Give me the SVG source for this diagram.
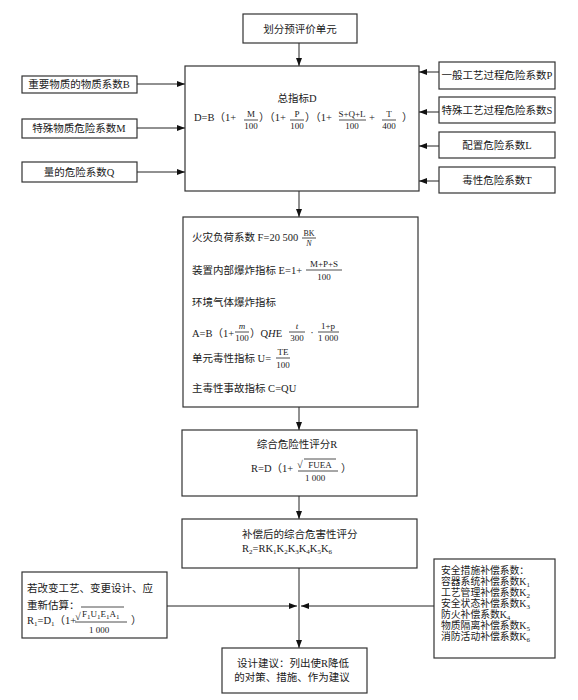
<svg xmlns="http://www.w3.org/2000/svg" width="578" height="700" viewBox="0 0 578 700">
<defs>
<style>
text{font-family:"Liberation Serif","Noto Sans CJK SC",serif;font-size:10.5px;fill:#1a1a1a}
.c{text-anchor:middle}
.f{font-size:9px}
.sm{font-size:8px}
.sub{font-size:7px}
.k{font-size:9.8px}
.box{fill:#fff;stroke:#333;stroke-width:1.2}
.ln{stroke:#222;stroke-width:1;fill:none}
.fl{stroke:#222;stroke-width:0.8}
</style>
<marker id="ah" markerWidth="8" markerHeight="6" refX="8" refY="3" orient="auto" markerUnits="userSpaceOnUse">
<path d="M0,0 L8,3 L0,6 z" fill="#111"/>
</marker>
</defs>
<rect width="578" height="700" fill="#fff"/>

<g id="connectors">
<line class="ln" x1="299" y1="43" x2="299" y2="66" marker-end="url(#ah)"/>
<line class="ln" x1="137" y1="84" x2="185" y2="84" marker-end="url(#ah)"/>
<line class="ln" x1="137" y1="128" x2="185" y2="128" marker-end="url(#ah)"/>
<line class="ln" x1="137" y1="172" x2="185" y2="172" marker-end="url(#ah)"/>
<line class="ln" x1="439" y1="72" x2="419" y2="72" marker-end="url(#ah)"/>
<line class="ln" x1="439" y1="112" x2="419" y2="112" marker-end="url(#ah)"/>
<line class="ln" x1="439" y1="146" x2="419" y2="146" marker-end="url(#ah)"/>
<line class="ln" x1="439" y1="181" x2="419" y2="181" marker-end="url(#ah)"/>
<line class="ln" x1="299" y1="191" x2="299" y2="217" marker-end="url(#ah)"/>
<line class="ln" x1="299" y1="407" x2="299" y2="430" marker-end="url(#ah)"/>
<line class="ln" x1="299" y1="496" x2="299" y2="519" marker-end="url(#ah)"/>
<line class="ln" x1="299" y1="568" x2="299" y2="648" marker-end="url(#ah)"/>
<line class="ln" x1="167" y1="606" x2="297" y2="606" marker-end="url(#ah)"/>
<line class="ln" x1="434" y1="606" x2="301" y2="606" marker-end="url(#ah)"/>
</g>

<g id="n-top">
<rect class="box" x="243" y="14" width="114" height="29"/>
<text class="c" x="300" y="33">划分预评价单元</text>
</g>

<g id="n-B">
<rect class="box" x="22" y="76" width="115" height="17"/>
<text class="c" x="79" y="88">重要物质的物质系数B</text>
</g>
<g id="n-M">
<rect class="box" x="22" y="119" width="115" height="19"/>
<text class="c" x="79" y="132">特殊物质危险系数M</text>
</g>
<g id="n-Q">
<rect class="box" x="22" y="162" width="115" height="20"/>
<text class="c" x="79" y="176">量的危险系数Q</text>
</g>

<g id="n-P">
<rect class="box" x="439" y="62" width="116" height="27"/>
<text class="c" x="497" y="79">一般工艺过程危险系数P</text>
</g>
<g id="n-S">
<rect class="box" x="439" y="97" width="116" height="26"/>
<text class="c" x="497" y="114">特殊工艺过程危险系数S</text>
</g>
<g id="n-L">
<rect class="box" x="439" y="132" width="116" height="26"/>
<text class="c" x="497" y="149">配置危险系数L</text>
</g>
<g id="n-T">
<rect class="box" x="439" y="167" width="116" height="26"/>
<text class="c" x="497" y="184">毒性危险系数T</text>
</g>

<g id="n-D">
<rect class="box" x="185" y="66" width="234" height="125"/>
<text class="c" x="297" y="102">总指标D</text>
<text x="194" y="121">D=B（1+</text>
<text class="c f" x="251" y="117">M</text>
<line class="fl" x1="244" y1="120" x2="258" y2="120"/>
<text class="c f" x="251" y="129">100</text>
<text x="259" y="121">）（1+</text>
<text class="c f" x="297" y="117">P</text>
<line class="fl" x1="290" y1="120" x2="304" y2="120"/>
<text class="c f" x="297" y="129">100</text>
<text x="305" y="121">）（1+</text>
<text class="c f" x="352" y="117">S+Q+L</text>
<line class="fl" x1="339" y1="120" x2="366" y2="120"/>
<text class="c f" x="352" y="129">100</text>
<text x="369" y="121">+</text>
<text class="c f" x="389" y="117">T</text>
<line class="fl" x1="382" y1="120" x2="396" y2="120"/>
<text class="c f" x="389" y="129">400</text>
<text x="402" y="121">）</text>
</g>

<g id="n-index">
<rect class="box" x="183" y="217" width="235" height="190"/>
<text x="192" y="241">火灾负荷系数 F=20 500</text>
<text class="c sm" x="309" y="236">BK</text>
<line class="fl" x1="302" y1="238" x2="316" y2="238"/>
<text class="c sm" x="309" y="246" font-style="italic">N</text>

<text x="192" y="274">装置内部爆炸指标 E=1+</text>
<text class="c f" x="324" y="267">M+P+S</text>
<line class="fl" x1="306" y1="270" x2="342" y2="270"/>
<text class="c f" x="324" y="280">100</text>

<text x="192" y="306">环境气体爆炸指标</text>

<text x="192" y="337">A=B（1+</text>
<text class="c f" x="242" y="329" font-style="italic">m</text>
<line class="fl" x1="235" y1="332" x2="249" y2="332"/>
<text class="c f" x="242" y="341">100</text>
<text x="250" y="337">）Q<tspan font-style="italic">H</tspan>E</text>
<text class="c f" x="297" y="329" font-style="italic">t</text>
<line class="fl" x1="289" y1="332" x2="305" y2="332"/>
<text class="c f" x="297" y="341">300</text>
<text class="c" x="312" y="336">·</text>
<text class="c f" x="328" y="329">1+p</text>
<line class="fl" x1="318" y1="332" x2="339" y2="332"/>
<text class="c f" x="328" y="341">1 000</text>

<text x="192" y="362">单元毒性指标 U=</text>
<text class="c f" x="283" y="355">TE</text>
<line class="fl" x1="276" y1="358" x2="290" y2="358"/>
<text class="c f" x="283" y="368">100</text>

<text x="192" y="392">主毒性事故指标 C=QU</text>
</g>

<g id="n-R">
<rect class="box" x="182" y="430" width="235" height="66"/>
<text class="c" x="297" y="448">综合危险性评分R</text>
<text x="251" y="472">R=D（1+</text>
<text x="297" y="468" font-size="11">√</text>
<line class="fl" x1="304" y1="459" x2="336" y2="459"/>
<text class="c f" x="320" y="468">FUEA</text>
<line class="fl" x1="298" y1="471" x2="338" y2="471"/>
<text class="c f" x="315" y="481">1 000</text>
<text x="341" y="472">）</text>
</g>

<g id="n-R2">
<rect class="box" x="182" y="519" width="235" height="49"/>
<text x="242" y="538">补偿后的综合危害性评分</text>
<text x="242" y="552">R<tspan class="sub" dy="2">2</tspan><tspan dy="-2">=RK</tspan><tspan class="sub" dy="2">1</tspan><tspan dy="-2">K</tspan><tspan class="sub" dy="2">2</tspan><tspan dy="-2">K</tspan><tspan class="sub" dy="2">3</tspan><tspan dy="-2">K</tspan><tspan class="sub" dy="2">4</tspan><tspan dy="-2">K</tspan><tspan class="sub" dy="2">5</tspan><tspan dy="-2">K</tspan><tspan class="sub" dy="2">6</tspan></text>
</g>

<g id="n-R1">
<rect class="box" x="22" y="572" width="145" height="66"/>
<text x="27" y="592">若改变工艺、变更设计、应</text>
<text x="27" y="609">重新估算：</text>
<text x="27" y="624">R<tspan class="sub" dy="2">1</tspan><tspan dy="-2">=D</tspan><tspan class="sub" dy="2">1</tspan><tspan dy="-2">（1+</tspan></text>
<text x="75" y="620" font-size="11">√</text>
<line class="fl" x1="81" y1="607" x2="124" y2="607"/>
<text x="82" y="617" class="f">F<tspan class="sub" dy="2">1</tspan><tspan dy="-2">U</tspan><tspan class="sub" dy="2">1</tspan><tspan dy="-2">E</tspan><tspan class="sub" dy="2">1</tspan><tspan dy="-2">A</tspan><tspan class="sub" dy="2">1</tspan></text>
<line class="fl" x1="75" y1="622" x2="127" y2="622"/>
<text class="c f" x="99" y="633">1 000</text>
<text x="131" y="624">）</text>
</g>

<g id="n-K">
<rect class="box" x="434" y="559" width="121" height="99"/>
<text class="k" x="441" y="574">安全措施补偿系数：</text>
<text class="k" x="441" y="585">容器系统补偿系数K<tspan class="sub" dy="1.5">1</tspan></text>
<text class="k" x="441" y="596">工艺管理补偿系数K<tspan class="sub" dy="1.5">2</tspan></text>
<text class="k" x="441" y="607">安全状态补偿系数K<tspan class="sub" dy="1.5">3</tspan></text>
<text class="k" x="441" y="618">防火补偿系数K<tspan class="sub" dy="1.5">4</tspan></text>
<text class="k" x="441" y="629">物质隔离补偿系数K<tspan class="sub" dy="1.5">5</tspan></text>
<text class="k" x="441" y="640">消防活动补偿系数K<tspan class="sub" dy="1.5">6</tspan></text>
</g>

<g id="n-final">
<rect class="box" x="222" y="648" width="145" height="45"/>
<text class="c" x="293" y="667">设计建议：列出使R降低</text>
<text class="c" x="292" y="681">的对策、措施、作为建议</text>
</g>
</svg>
